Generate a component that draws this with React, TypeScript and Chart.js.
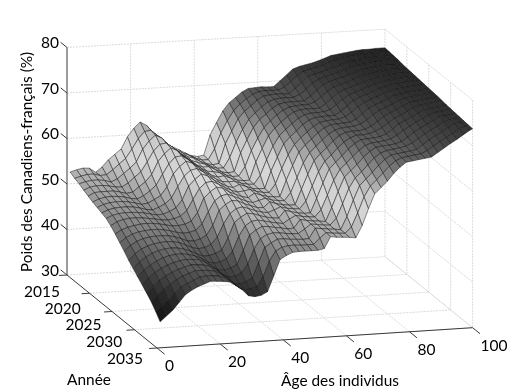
import React, { useEffect, useRef } from "react";
import { Chart, registerables } from "chart.js";

Chart.register(...registerables);

const ages = [1,3,5,7,9,11,13,15,17,19,21,23,25,27,29,31,33,35,37,39,41,43,45,47,49,51,53,55,57,59,61,63,65,67,69,71,73,75,77,79,81,83,85,87,89,91,93,95,97,99,100];
const years = [2015,2016,2017,2018,2019,2020,2021,2022,2023,2024,2025,2026,2027,2028,2029,2030,2031,2032,2033,2034,2035];

const y2015 = [52.6,53.0,53.3,53.2,52.2,53.3,54.8,55.9,57.0,59.6,61.4,62.7,61.9,60.2,59.0,57.7,56.9,56.2,55.4,54.7,54.4,54.6,59.0,61.6,64.1,65.8,66.9,68.0,68.7,68.8,68.9,68.8,68.8,70.0,71.2,72.4,72.9,73.2,73.5,73.9,74.4,74.9,75.1,75.3,75.5,75.7,75.8,75.8,75.9,75.9,75.9];
const y2016 = [52.0,52.4,52.7,52.7,52.3,52.4,53.4,54.6,55.7,57.7,59.9,61.4,61.6,60.4,59.1,57.9,56.9,56.2,55.6,54.9,54.4,54.4,56.7,60.1,62.7,64.8,66.2,67.3,68.2,68.7,68.8,68.8,68.8,69.4,70.5,71.7,72.6,73.0,73.3,73.7,74.2,74.6,75.0,75.2,75.4,75.6,75.7,75.8,75.8,75.8,75.8];
const y2017 = [51.6,52.0,52.2,52.2,52.0,51.6,52.2,53.3,54.4,55.7,58.4,60.1,61.3,60.6,59.1,58.0,56.9,56.2,55.8,55.0,54.4,54.1,54.3,58.5,61.2,63.8,65.4,66.5,67.7,68.5,68.7,68.8,68.7,68.7,69.8,71.0,72.2,72.7,73.0,73.4,73.9,74.3,74.8,75.0,75.2,75.4,75.6,75.7,75.7,75.7,75.7];
const y2018 = [51.0,51.6,51.8,51.8,51.6,51.3,51.2,52.0,53.2,54.3,56.4,58.7,60.1,60.3,59.3,58.0,57.0,56.1,55.6,55.2,54.6,54.1,54.1,56.3,59.6,62.3,64.4,65.8,67.0,68.0,68.5,68.7,68.7,68.7,69.2,70.3,71.5,72.3,72.8,73.2,73.6,74.1,74.5,74.9,75.1,75.3,75.5,75.6,75.6,75.6,75.6];
const y2019 = [50.5,51.2,51.3,51.3,51.3,51.0,50.6,50.8,51.9,52.9,54.4,57.2,58.8,60.0,59.4,58.0,57.0,56.0,55.4,55.4,54.7,54.1,53.8,54.0,58.0,60.8,63.4,65.1,66.2,67.4,68.2,68.5,68.6,68.6,68.6,69.6,70.8,71.9,72.5,72.9,73.3,73.8,74.2,74.7,74.9,75.1,75.3,75.4,75.4,75.4,75.4];
const y2020 = [50.0,50.6,50.9,51.0,50.9,50.7,50.3,50.1,50.7,51.7,52.9,55.2,57.4,58.8,59.0,58.1,57.0,56.1,55.3,55.1,54.8,54.2,53.8,53.8,55.8,59.2,61.9,64.1,65.5,66.7,67.7,68.3,68.5,68.6,68.6,69.1,70.1,71.2,72.1,72.6,73.0,73.5,74.0,74.4,74.7,74.9,75.1,75.3,75.3,75.3,75.3];
const y2021 = [49.6,50.2,50.5,50.6,50.6,50.4,50.1,49.7,49.9,50.6,51.4,53.2,56.0,57.5,58.6,58.1,56.9,56.1,55.2,54.7,54.9,54.3,53.8,53.6,53.6,57.5,60.4,63.1,64.7,65.9,67.1,68.0,68.4,68.5,68.5,68.5,69.4,70.5,71.7,72.3,72.7,73.2,73.7,74.1,74.5,74.7,74.9,75.1,75.2,75.2,75.2];
const y2022 = [49.2,49.8,50.1,50.2,50.2,50.1,49.8,49.4,49.2,49.7,50.4,51.6,54.0,56.2,57.4,57.7,56.9,56.0,55.2,54.5,54.4,54.4,53.9,53.6,53.5,55.4,58.7,61.6,63.8,65.1,66.3,67.4,68.1,68.4,68.4,68.5,68.9,69.9,71.0,71.9,72.4,72.9,73.4,73.9,74.3,74.6,74.7,74.9,75.1,75.1,75.1];
const y2023 = [48.8,49.4,49.7,49.8,49.8,49.7,49.5,49.2,48.9,49.0,49.5,50.2,51.9,54.8,56.2,57.3,56.8,55.8,55.1,54.3,53.9,54.5,54.0,53.5,53.3,53.3,57.0,60.0,62.8,64.3,65.5,66.8,67.7,68.2,68.3,68.4,68.4,69.2,70.3,71.4,72.1,72.6,73.1,73.7,74.0,74.4,74.5,74.7,74.9,75.0,75.0];
const y2024 = [48.0,48.8,49.2,49.4,49.4,49.3,49.1,48.9,48.6,48.5,48.7,49.2,50.3,52.7,55.0,56.2,56.4,55.7,54.9,54.2,53.7,53.9,54.1,53.6,53.3,53.2,55.0,58.3,61.2,63.4,64.8,66.0,67.1,67.9,68.2,68.3,68.4,68.8,69.7,70.8,71.7,72.3,72.8,73.4,73.9,74.2,74.4,74.6,74.7,74.9,74.9];
const y2025 = [47.0,47.8,48.3,48.6,48.8,48.9,48.8,48.6,48.3,48.0,48.0,48.2,48.8,50.6,53.7,55.0,55.9,55.6,54.7,54.1,53.5,53.2,54.1,53.6,53.2,53.0,53.0,56.5,59.6,62.5,64.0,65.2,66.5,67.5,68.1,68.2,68.3,68.4,69.0,70.1,71.2,71.9,72.4,73.0,73.7,73.9,74.2,74.4,74.5,74.7,74.8];
const y2026 = [45.9,46.9,47.6,48.0,48.2,48.3,48.3,48.1,47.8,47.4,47.1,47.2,47.6,48.9,51.5,53.8,54.8,55.1,54.5,53.9,53.3,52.9,53.3,53.7,53.2,53.0,52.9,54.6,57.8,60.9,63.1,64.4,65.7,66.9,67.7,68.1,68.2,68.3,68.7,69.5,70.6,71.4,72.0,72.6,73.3,73.8,74.0,74.2,74.4,74.6,74.7];
const y2027 = [44.8,46.0,46.8,47.3,47.6,47.7,47.7,47.6,47.3,46.8,46.2,46.1,46.5,47.2,49.3,52.5,53.7,54.5,54.3,53.6,53.1,52.6,52.5,53.7,53.2,52.9,52.7,52.7,56.0,59.2,62.1,63.6,64.8,66.2,67.3,67.9,68.1,68.1,68.3,68.9,69.9,70.9,71.6,72.2,72.9,73.6,73.8,74.0,74.2,74.4,74.6];
const y2028 = [43.6,45.0,45.9,46.5,46.9,47.1,47.2,47.1,46.8,46.2,45.6,45.2,45.4,46.0,47.5,50.3,52.5,53.5,53.8,53.3,52.8,52.4,52.2,52.7,53.3,52.9,52.7,52.6,54.2,57.4,60.5,62.7,64.0,65.4,66.6,67.5,68.0,68.0,68.2,68.6,69.3,70.3,71.2,71.8,72.5,73.2,73.7,73.9,74.1,74.3,74.5];
const y2029 = [42.6,44.0,45.0,45.7,46.2,46.5,46.6,46.5,46.2,45.7,45.0,44.4,44.4,44.8,45.5,48.0,51.3,52.4,53.2,53.0,52.5,52.1,51.8,51.7,53.3,52.9,52.6,52.4,52.4,55.5,58.8,61.8,63.2,64.5,65.9,67.0,67.8,67.9,68.0,68.2,68.7,69.7,70.7,71.4,72.1,72.8,73.5,73.7,73.9,74.1,74.3];
const y2030 = [41.6,43.0,44.0,44.8,45.4,45.8,46.0,46.0,45.8,45.4,44.8,44.0,43.5,43.7,44.3,45.9,49.1,51.3,52.2,52.4,52.1,51.8,51.5,51.3,52.2,52.9,52.6,52.4,52.3,53.8,56.9,60.1,62.4,63.7,65.0,66.3,67.3,67.8,67.9,68.1,68.4,69.1,70.1,70.9,71.7,72.4,73.1,73.6,73.8,74.0,74.2];
const y2031 = [40.6,42.0,43.2,44.0,44.6,45.1,45.4,45.6,45.5,45.4,44.7,43.9,42.8,42.7,43.1,43.8,46.8,50.1,51.1,51.8,51.7,51.4,51.2,50.9,51.0,52.8,52.5,52.3,52.2,52.0,55.0,58.4,61.5,62.8,64.1,65.6,66.8,67.6,67.8,67.9,68.1,68.5,69.4,70.4,71.2,71.9,72.7,73.5,73.6,73.8,74.1];
const y2032 = [39.6,41.0,42.2,43.1,43.8,44.4,44.8,45.2,45.1,45.0,44.6,43.8,42.7,42.0,42.1,42.7,44.6,47.8,50.0,50.8,51.1,51.0,50.8,50.6,50.6,51.5,52.5,52.3,52.1,52.0,53.4,56.5,59.8,62.0,63.3,64.7,66.1,67.1,67.6,67.8,68.0,68.3,68.9,69.8,70.7,71.5,72.2,73.1,73.5,73.7,74.0];
const y2033 = [38.5,39.9,41.0,42.1,43.0,43.7,44.2,44.7,44.7,44.6,44.4,43.7,42.8,41.4,41.2,41.6,42.3,45.5,48.9,49.8,50.5,50.5,50.3,50.2,50.1,50.2,52.4,52.2,52.0,51.9,51.7,54.5,58.0,61.1,62.5,63.8,65.3,66.5,67.4,67.6,67.8,68.0,68.3,69.2,70.2,71.0,71.7,72.6,73.4,73.5,73.9];
const y2034 = [37.2,38.4,39.5,40.9,42.1,42.9,43.5,44.1,44.3,44.2,44.1,43.6,42.7,41.5,40.7,40.8,41.2,43.2,46.6,48.8,49.5,49.8,49.8,49.7,49.7,49.7,51.0,52.1,51.9,51.8,51.7,53.0,56.0,59.4,61.7,63.0,64.4,65.8,66.9,67.5,67.7,67.9,68.1,68.7,69.6,70.5,71.3,72.1,73.0,73.5,73.8];
const y2035 = [35.7,36.9,38.1,39.7,41.3,42.2,42.9,43.4,43.9,43.8,43.7,43.5,42.6,41.6,40.2,39.9,40.1,40.8,44.2,47.7,48.5,49.1,49.2,49.2,49.2,49.2,49.5,52.0,51.8,51.7,51.6,51.4,54.0,57.6,60.8,62.1,63.4,65.0,66.3,67.3,67.5,67.7,67.9,68.1,69.0,69.9,70.8,71.6,72.5,73.4,73.7];
const surface = [y2015,y2016,y2017,y2018,y2019,y2020,y2021,y2022,y2023,y2024,y2025,y2026,y2027,y2028,y2029,y2030,y2031,y2032,y2033,y2034,y2035];

const ageTicks = [0, 20, 40, 60, 80, 100];
const yearTicks = [2015, 2020, 2025, 2030, 2035];
const zTicks = [30, 40, 50, 60, 70, 80];
const yTitle = "Poids des Canadiens-français (%)";
const ageTitle = "Âge des individus";
const yearTitle = "Année";

const colorStopsZ = [35, 38, 40, 44, 48, 52, 56, 60, 63, 66, 69, 72, 76];
const colorStopsG = [15, 28, 42, 80, 125, 172, 215, 205, 160, 115, 80, 62, 35];

const FONT = "Lato, 'Open Sans', sans-serif";

function px(a: number, y: number) {
  return 67 + 3.18 * a + (4.5 - 0.0012 * a) * (y - 2015);
}
function py(a: number, y: number, z: number) {
  return 275 - 0.183 * a + (3.65 - 0.001 * a) * (y - 2015) - (z - 30) * 4.55;
}
const P = (a: number, y: number, z: number) => ({ x: px(a, y), y: py(a, y, z) });

function gray(z: number) {
  let g = colorStopsG[colorStopsG.length - 1];
  if (z <= colorStopsZ[0]) g = colorStopsG[0];
  else {
    for (let i = 0; i < colorStopsZ.length - 1; i++) {
      if (z >= colorStopsZ[i] && z < colorStopsZ[i + 1]) {
        const t = (z - colorStopsZ[i]) / (colorStopsZ[i + 1] - colorStopsZ[i]);
        g = colorStopsG[i] + t * (colorStopsG[i + 1] - colorStopsG[i]);
      }
    }
  }
  const v = Math.round(g);
  return `rgb(${v},${v},${v})`;
}

function buildDatasets() {
  const sets: any[] = [];
  // nearest first: chart.js paints the last dataset first
  for (let r = years.length - 2; r >= 0; r--) {
    for (let c = 0; c < ages.length - 1; c++) {
      const corners = [[c, r], [c + 1, r], [c + 1, r + 1], [c, r + 1], [c, r]];
      const zs = [surface[r][c], surface[r][c + 1], surface[r + 1][c + 1], surface[r + 1][c]];
      const mean = (zs[0] + zs[1] + zs[2] + zs[3]) / 4;
      sets.push({
        data: corners.map(([i, j]) => P(ages[i], years[j], surface[j][i])),
        showLine: true,
        fill: "shape",
        backgroundColor: gray(mean),
        borderColor: "rgba(15,15,15,0.8)",
        borderWidth: 0.6,
        pointRadius: 0,
        tension: 0,
        clip: false,
      });
    }
  }
  const axis = (data: any[]) => ({
    data, showLine: true, fill: false, borderColor: "#3a3a3a", borderWidth: 1,
    pointRadius: 0, tension: 0, clip: false,
  });
  const grid = (data: any[]) => ({
    data, showLine: true, fill: false, borderColor: "#dadada", borderWidth: 1, borderDash: [2, 1],
    pointRadius: 0, tension: 0, clip: false,
  });
  const a0 = ageTicks[0], a1 = ageTicks[ageTicks.length - 1];
  const y0 = yearTicks[0], y1 = yearTicks[yearTicks.length - 1];
  const z0 = zTicks[0], z1 = zTicks[zTicks.length - 1];
  for (const z of zTicks) {
    sets.push(axis([P(a0, y0, z), P(a0, y0 - 1.4, z)]));
  }
  for (const y of yearTicks) {
    sets.push(axis([P(a0, y, z0), P(a0 - 2.5, y, z0)]));
  }
  for (const a of ageTicks) {
    sets.push(axis([P(a, y1, z0), P(a, y1 + 1.7, z0)]));
  }
  sets.push(axis([P(a0, y0, z0), P(a0, y0, z1)]));
  sets.push(axis([P(a0, y0, z0), P(a0, y1, z0)]));
  sets.push(axis([P(a0, y1, z0), P(a1, y1, z0)]));
  for (const z of zTicks) {
    sets.push(grid([P(a0, y0, z), P(a1, y0, z), P(a1, y1, z)]));
  }
  for (const a of ageTicks.slice(1)) {
    sets.push(grid([P(a, y0, z1), P(a, y0, z0), P(a, y1, z0)]));
  }
  for (const y of yearTicks.slice(1)) {
    sets.push(grid([P(a1, y, z1), P(a1, y, z0), P(a0, y, z0)]));
  }
  return sets;
}

const textPlugin = {
  id: "axisText",
  afterDraw(chart: any) {
    const ctx = chart.ctx;
    ctx.save();
    ctx.fillStyle = "#000";
    ctx.textBaseline = "middle";
    ctx.font = `15.5px ${FONT}`;
    ctx.textAlign = "right";
    for (const z of zTicks) {
      ctx.fillText(String(z), 59, py(0, 2015, z) - 4.5);
    }
    yearTicks.forEach((y) => {
      const d = y - 2015;
      ctx.fillText(String(y), px(0, y) - 7 - 0.35 * d, py(0, y, 30) + 16.7 - 0.285 * d);
    });
    ctx.textAlign = "left";
    for (const a of ageTicks) {
      ctx.fillText(String(a), px(a, 2035) + 8, py(a, 2035, 30) + 18);
    }
    ctx.font = `15.4px ${FONT}`;
    ctx.textAlign = "center";
    ctx.fillText(ageTitle, 340, 381);
    ctx.fillText(yearTitle, 89, 380);
    ctx.translate(27, 162);
    ctx.rotate(-Math.PI / 2);
    ctx.fillText(yTitle, 0, 0);
    ctx.restore();
  },
};

export default function App() {
  const ref = useRef<HTMLCanvasElement>(null);
  useEffect(() => {
    document.body.style.margin = "0";
    document.body.style.background = "#fff";
    const chart = new Chart(ref.current!, {
      type: "scatter",
      data: { datasets: buildDatasets() },
      options: {
        animation: false,
        responsive: false,
        events: [],
        layout: { padding: 0 },
        plugins: { legend: { display: false }, tooltip: { enabled: false } },
        scales: {
          x: { type: "linear", min: 0, max: 522, display: false },
          y: { type: "linear", min: 0, max: 391, reverse: true, display: false },
        },
      },
      plugins: [textPlugin],
    } as any);
    return () => chart.destroy();
  }, []);
  return <canvas ref={ref} width={522} height={391} style={{ display: "block", width: 522, height: 391 }} />;
}
